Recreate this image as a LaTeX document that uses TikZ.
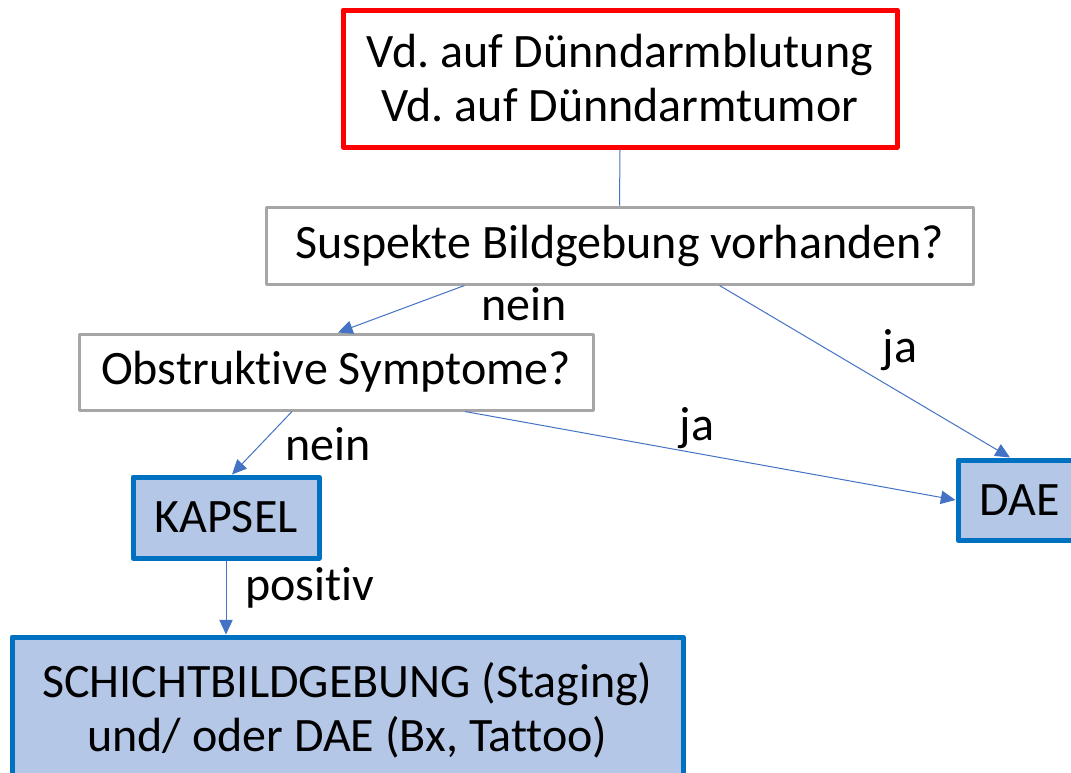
\documentclass[tikz,border=0pt]{standalone}
\usepackage{fontspec}
\setmainfont[Ligatures=NoCommon]{Carlito}
\usetikzlibrary{arrows.meta,calc}
\definecolor{redb}{HTML}{FF0000}
\definecolor{grayb}{HTML}{A6A6A6}
\definecolor{blueb}{HTML}{0070C0}
\definecolor{bluef}{HTML}{B4C7E7}
\definecolor{conn}{HTML}{4472C4}
\frenchspacing
\tikzset{
  txt/.style={font=\fontsize{36}{40.5}\selectfont, text=black},
  box/.style={txt, draw, rectangle, inner sep=0pt, align=center, line join=round},
  redbox/.style={box, draw=redb, line width=3.75pt, fill=white},
  graybox/.style={box, draw=grayb, line width=2.25pt, fill=white},
  bluebox/.style={box, draw=blueb, line width=3.75pt, fill=bluef},
  conline/.style={draw=conn, line width=0.75pt},
  conarrow/.style={conline, -{Triangle[length=11pt,width=10pt]}, color=conn},
  lbl/.style={txt, inner sep=0pt}
}
\begin{document}
\begin{tikzpicture}[x=0.75pt,y=-0.75pt]
\useasboundingbox (0,0) rectangle (1071,772);
\clip (0,0) rectangle (1071,772);
\fill[white] (0,0) rectangle (1071,772);
\node[redbox, minimum width=415.5pt, minimum height=102.75pt] (top) at (620,78.5) {Vd. auf Dünndarmblutung\\Vd. auf Dünndarmtumor};
\node[graybox, minimum width=530.25pt, minimum height=57.75pt] (b2) at (619.5,245.5) {Suspekte Bildgebung vorhanden?};
\node[graybox, minimum width=385.5pt, minimum height=57pt] (b3) at (336,372) {Obstruktive Symptome?};
\node[bluebox, minimum width=139.5pt, minimum height=60.75pt] (kap) at (226,517.5) {KAPSEL};
\node[bluebox, minimum width=93pt, minimum height=60pt] (dae) at (1020,500) {DAE};
\node[bluebox, minimum width=503.25pt, minimum height=109.5pt] (sch) at (347.5,710) {SCHICHTBILDGEBUNG (Staging)\\und/ oder DAE (Bx, Tattoo)};

\draw[conline] (top.south) -- (b2.north);
\draw[conarrow] ($(b2.south)+(-155,0)$) -- ($(b3.north)+(2,0)$);
\draw[conarrow] ($(b2.south)+(100,0)$) -- ($(dae.north)+(-10,0)$);
\draw[conarrow] ($(b3.south)+(-44,0)$) -- ($(kap.north)+(6,0)$);
\draw[conarrow] ($(b3.south)+(129,0)$) -- (dae.west);
\draw[conarrow] (kap.south) -- (kap.south |- sch.north);

\node[lbl] (l1) at (524,304) {nein};
\node[lbl] (l2) at (900,350) {ja};
\node[lbl] (l3) at (328,444) {nein};
\node[lbl] (l4) at (697,428) {ja};
\node[lbl] (l5) at (310,588) {positiv};
\end{tikzpicture}
\end{document}
